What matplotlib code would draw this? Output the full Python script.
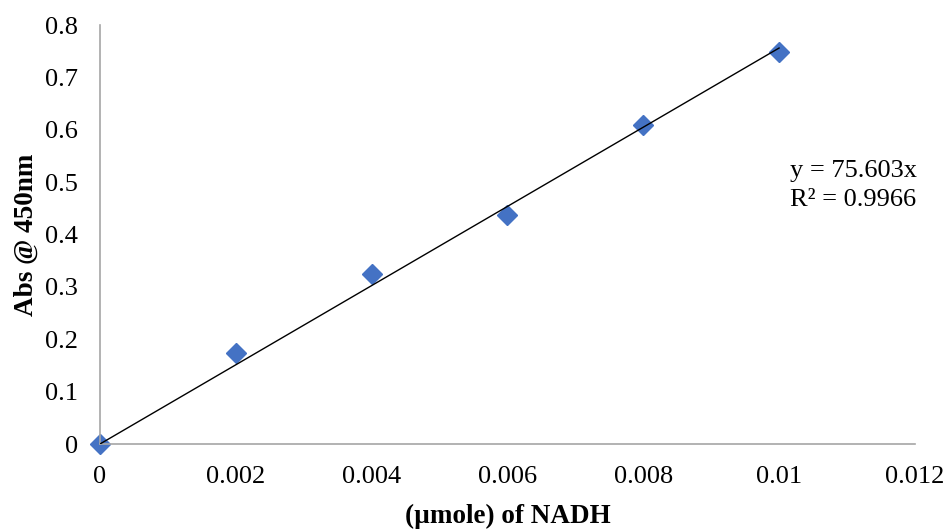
import matplotlib
matplotlib.use("Agg")
import matplotlib.pyplot as plt
import numpy as np

# NADH standard curve
nadh_umole = [0.0, 0.002, 0.004, 0.006, 0.008, 0.010]
absorbance = [0.0, 0.174, 0.325, 0.437, 0.609, 0.748]
slope = 75.603
r_squared = 0.9966
x_ticks = [0, 0.002, 0.004, 0.006, 0.008, 0.01, 0.012]
x_tick_labels = ["0", "0.002", "0.004", "0.006", "0.008", "0.01", "0.012"]
y_ticks = [0, 0.1, 0.2, 0.3, 0.4, 0.5, 0.6, 0.7, 0.8]
y_tick_labels = ["0", "0.1", "0.2", "0.3", "0.4", "0.5", "0.6", "0.7", "0.8"]

plt.rcParams["font.family"] = ["Liberation Serif", "DejaVu Serif"]

fig = plt.figure(figsize=(9.52, 5.32), dpi=100)
ax = fig.add_axes([0.105, 0.1654, 0.856, 0.7876])

# linear trendline through the origin
fit_x = np.array([nadh_umole[0], nadh_umole[-1]])
ax.plot(fit_x, slope * fit_x, color="black", linewidth=1.0, zorder=3)

ax.plot(nadh_umole, absorbance, linestyle="none", marker="D",
        markersize=10, color="#4472C4", zorder=2, clip_on=False)

ax.set_xlim(0, 0.012)
ax.set_ylim(0, 0.8)
ax.set_xticks(x_ticks)
ax.set_xticklabels(x_tick_labels)
ax.set_yticks(y_ticks)
ax.set_yticklabels(y_tick_labels)
ax.tick_params(length=0, labelsize=19)
ax.tick_params(axis="x", pad=16)
ax.tick_params(axis="y", pad=16)

for side in ("top", "right"):
    ax.spines[side].set_visible(False)
for side in ("left", "bottom"):
    ax.spines[side].set_color("#A6A6A6")
    ax.spines[side].set_linewidth(1.2)

ax.set_xlabel("(\u00b5mole) of NADH", fontsize=19.5, fontweight="bold", labelpad=11)
ax.set_ylabel("Abs @ 450nm", fontsize=19.5, fontweight="bold", labelpad=4)

ax.text(0.01016, 0.542, f"y = {slope}x\nR\u00b2 = {r_squared}",
        fontsize=19, ha="left", va="top", linespacing=1.4)

fig.savefig("out.png", dpi=100)
